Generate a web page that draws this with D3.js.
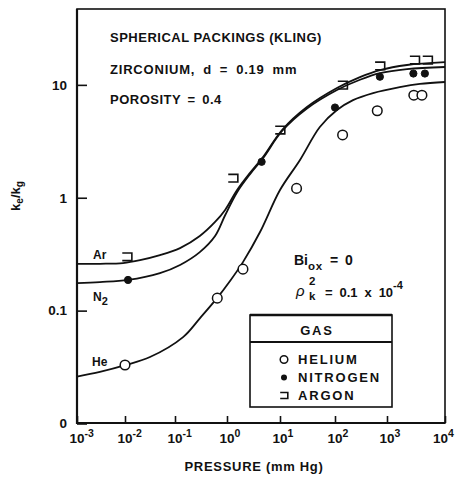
<!DOCTYPE html>
<html>
<head>
<meta charset="utf-8">
<script src="https://cdn.jsdelivr.net/npm/d3@7"></script>
<style>
  html, body { margin: 0; padding: 0; background: #fff; }
  svg { display: block; }
  text { font-family: "Liberation Sans", Arial, Helvetica, sans-serif; fill: #111; }
</style>
</head>
<body>
<svg id="chart" width="456" height="477"></svg>
<script>
// Decade ticks of the pressure axis
const pressureTicks = [1e-3, 1e-2, 1e-1, 1, 10, 100, 1e3, 1e4];
const pressureExponents = ["-3", "-2", "-1", "0", "1", "2", "3", "4"];

// Ratio axis ticks (the lowest decade is printed as "0")
const ratioTicks = [0.01, 0.1, 1, 10];
const ratioLabels = ["0", "0.1", "1", "10"];

// Measured points, pressure in mm Hg and ke/kg
const heliumP = [0.01, 0.65, 2.0, 20, 140, 650, 2900, 4000];
const heliumK = [0.033, 0.129, 0.233, 1.21, 3.6, 5.9, 8.1, 8.1];
const nitrogenP = [0.0115, 4.5, 100, 730, 2850, 4500];
const nitrogenK = [0.187, 2.08, 6.3, 11.8, 12.6, 12.6];
const argonP = [0.011, 1.3, 10, 140, 730, 3000, 5000];
const argonK = [0.30, 1.49, 3.98, 9.95, 14.7, 16.6, 16.6];

// Model curves
const heCurveP = [0.001, 0.003, 0.0105, 0.0316, 0.143, 0.303, 0.643, 1.14, 2.0, 4.2, 10, 23.1, 53, 109, 222, 540, 1660, 3700, 10000];
const heCurveK = [0.026, 0.0286, 0.033, 0.0388, 0.0583, 0.0859, 0.129, 0.183, 0.269, 0.497, 1.17, 2.16, 4.23, 5.98, 7.33, 8.46, 9.55, 10.2, 10.6];
const arCurveP = [0.001, 0.003, 0.0091, 0.02, 0.05, 0.125, 0.30, 0.59, 0.92, 1.55, 2.72, 4.78, 10.9, 30.9, 109, 302, 732, 2210, 10000];
const arCurveK = [0.259, 0.26, 0.264, 0.28, 0.31, 0.358, 0.458, 0.61, 0.78, 1.17, 1.66, 2.29, 3.98, 6.36, 9.37, 11.7, 13.5, 15.0, 15.9];
const n2CurveP = [0.001, 0.003, 0.0115, 0.05, 0.125, 0.30, 0.59, 0.92, 1.55, 2.72, 4.78, 10.9, 30.9, 109, 302, 732, 2210, 10000];
const n2CurveK = [0.175, 0.179, 0.187, 0.215, 0.254, 0.33, 0.458, 0.70, 1.12, 1.62, 2.24, 3.9, 6.17, 9.0, 11.1, 12.7, 13.8, 14.4];

const svg = d3.select("#chart");
const W = 456;
const plot = { left: 77, right: 445, top: 9, bottom: 423 };

// Pressure scale with one stop per decade
const x = d3.scaleLog()
  .domain(pressureTicks)
  .range([77, 125, 175, 227, 280, 335, 387, 445]);
const y = d3.scaleLog()
  .domain([0.01, 47])
  .range([plot.bottom + 0.5, plot.top]);

const ink = "#111";

// Frame: heavier axes on the left and bottom
svg.append("rect")
  .attr("x", plot.left).attr("y", plot.top)
  .attr("width", plot.right - plot.left).attr("height", plot.bottom - plot.top)
  .attr("fill", "none").attr("stroke", ink).attr("stroke-width", 1.6);
svg.append("path")
  .attr("d", `M${plot.left},${plot.top} V${plot.bottom} H${plot.right}`)
  .attr("fill", "none").attr("stroke", ink).attr("stroke-width", 2.2);

// X axis ticks (inside) and labels
const xAxis = d3.axisBottom(x).tickValues(pressureTicks).tickSizeInner(-7).tickSizeOuter(0).tickFormat("");
const gx = svg.append("g").attr("transform", `translate(0,${plot.bottom})`).call(xAxis);
gx.select(".domain").remove();
gx.selectAll(".tick line").attr("stroke", ink).attr("stroke-width", 1.6);

const xl = svg.append("g");
pressureTicks.forEach((p, i) => {
  const t = xl.append("text")
    .attr("x", x(p) - 7.5).attr("y", 443)
    .attr("font-size", 13.5).attr("font-weight", "bold");
  t.append("tspan").text("10");
  t.append("tspan").attr("dy", -6).attr("font-size", 10.5).text(pressureExponents[i]);
  // keep the last label inside the page
  const box = t.node().getBBox();
  const overflow = box.x + box.width - (W - 2);
  if (overflow > 0) t.attr("x", x(p) - 7.5 - overflow);
});

// Y axis ticks (inside) and labels
const yAxis = d3.axisLeft(y).tickValues(ratioTicks).tickSizeInner(-10).tickSizeOuter(0)
  .tickFormat((d, i) => ratioLabels[i]);
const gy = svg.append("g").attr("transform", `translate(${plot.left},0)`).call(yAxis);
gy.select(".domain").remove();
gy.selectAll(".tick line").attr("stroke", ink).attr("stroke-width", 1.6);
gy.selectAll(".tick text")
  .attr("x", -10)
  .attr("font-size", 13.5).attr("font-weight", "bold")
  .attr("font-family", "'Liberation Sans', Arial, sans-serif")
  .attr("fill", ink);

// Axis titles
svg.append("text")
  .attr("x", 254).attr("y", 471).attr("text-anchor", "middle")
  .attr("font-size", 13).attr("font-weight", "bold").attr("letter-spacing", 0.7)
  .text("PRESSURE (mm Hg)");

const yt = svg.append("text")
  .attr("transform", "translate(20,196) rotate(-90)")
  .attr("text-anchor", "middle").attr("font-size", 13).attr("font-weight", "bold");
yt.append("tspan").text("k");
yt.append("tspan").attr("dy", 3).attr("font-size", 10).text("e");
yt.append("tspan").attr("dy", -3).text("/k");
yt.append("tspan").attr("dy", 3).attr("font-size", 10).text("g");

// Model curves
const line = d3.line()
  .x(d => x(d[0])).y(d => y(d[1]))
  .curve(d3.curveCatmullRom.alpha(0.5));
const curves = [
  [heCurveP, heCurveK],
  [arCurveP, arCurveK],
  [n2CurveP, n2CurveK]
];
curves.forEach(([ps, ks]) => {
  svg.append("path")
    .datum(ps.map((p, i) => [p, ks[i]]))
    .attr("d", line)
    .attr("fill", "none").attr("stroke", ink).attr("stroke-width", 1.8);
});

// Markers
function bracket(g, cx, cy, s) {
  g.append("path")
    .attr("d", `M${cx - s},${cy - s * 0.8} H${cx + s} V${cy + s * 0.8} H${cx - s}`)
    .attr("fill", "none").attr("stroke", ink).attr("stroke-width", 1.6);
}
const marks = svg.append("g");
heliumP.forEach((p, i) => {
  marks.append("circle").attr("cx", x(p)).attr("cy", y(heliumK[i])).attr("r", 4.8)
    .attr("fill", "#fff").attr("stroke", ink).attr("stroke-width", 1.5);
});
nitrogenP.forEach((p, i) => {
  marks.append("circle").attr("cx", x(p)).attr("cy", y(nitrogenK[i])).attr("r", 3.6)
    .attr("fill", ink).attr("stroke", ink).attr("stroke-width", 1);
});
argonP.forEach((p, i) => bracket(marks, x(p), y(argonK[i]), 4.8));

// Curve labels
function labelText(xp, yp, main, sub) {
  const t = svg.append("text").attr("x", xp).attr("y", yp)
    .attr("font-size", 12).attr("font-weight", "bold");
  t.append("tspan").text(main);
  if (sub) t.append("tspan").attr("dy", 4).attr("font-size", 11).text(sub);
}
labelText(93, 259, "Ar");
labelText(93, 301, "N", "2");
labelText(92, 366, "He");

// Notes
const notes = [
  ["SPHERICAL PACKINGS (KLING)", 42, 0.5, 0],
  ["ZIRCONIUM, d = 0.19 mm", 74, 0.8, 3.5],
  ["POROSITY = 0.4", 104, 0.5, 2.5]
];
notes.forEach(([t, yy, ls, ws]) => {
  svg.append("text").attr("x", 110).attr("y", yy)
    .attr("font-size", 13).attr("font-weight", "bold")
    .attr("letter-spacing", ls).attr("word-spacing", ws).text(t);
});

const bi = svg.append("text").attr("x", 294).attr("y", 265)
  .attr("font-size", 14).attr("font-weight", "bold");
bi.append("tspan").text("Bi");
bi.append("tspan").attr("dy", 5).attr("font-size", 11.5).attr("letter-spacing", 0.8).text("ox");
bi.append("tspan").attr("dy", -5).attr("word-spacing", 3).text(" = 0");

const rho = svg.append("g");
rho.append("text").attr("x", 296).attr("y", 296)
  .attr("font-size", 15).attr("font-style", "italic").text("ρ");
rho.append("text").attr("x", 309).attr("y", 285)
  .attr("font-size", 11.5).attr("font-weight", "bold").text("2");
rho.append("text").attr("x", 309).attr("y", 300)
  .attr("font-size", 11.5).attr("font-weight", "bold").text("k");
const rv = rho.append("text").attr("x", 325).attr("y", 297)
  .attr("font-size", 13).attr("font-weight", "bold").attr("word-spacing", 3.3);
rv.append("tspan").text("= 0.1 x 10");
rv.append("tspan").attr("dy", -8).attr("font-size", 11).text("-4");

// Legend
const lg = svg.append("g");
lg.append("rect").attr("x", 250).attr("y", 315).attr("width", 142).attr("height", 92)
  .attr("fill", "#fff").attr("stroke", ink).attr("stroke-width", 1.6);
lg.append("line").attr("x1", 250).attr("x2", 392).attr("y1", 315).attr("y2", 315)
  .attr("stroke", ink).attr("stroke-width", 2.4);
lg.append("line").attr("x1", 250).attr("x2", 392).attr("y1", 342).attr("y2", 342)
  .attr("stroke", ink).attr("stroke-width", 1.8);
lg.append("text").attr("x", 317).attr("y", 335).attr("text-anchor", "middle")
  .attr("font-size", 13).attr("font-weight", "bold").attr("letter-spacing", 1.8).text("GAS");
const legendRows = [["HELIUM", 364], ["NITROGEN", 382], ["ARGON", 400]];
legendRows.forEach(([name, yy], i) => {
  lg.append("text").attr("x", 298).attr("y", yy)
    .attr("font-size", 13).attr("font-weight", "bold").attr("letter-spacing", 1.8).text(name);
  const cy = yy - 4.5;
  if (i === 0) {
    lg.append("circle").attr("cx", 284).attr("cy", cy).attr("r", 3.8)
      .attr("fill", "#fff").attr("stroke", ink).attr("stroke-width", 1.5);
  } else if (i === 1) {
    lg.append("circle").attr("cx", 284).attr("cy", cy).attr("r", 3)
      .attr("fill", ink);
  } else {
    bracket(lg, 284, cy, 3.8);
  }
});
</script>
</body>
</html>
